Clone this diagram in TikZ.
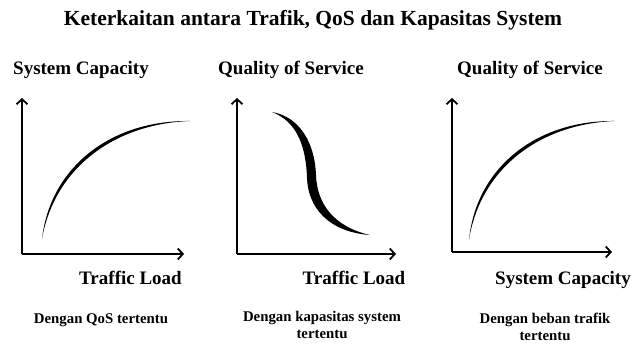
\documentclass[tikz,border=0pt]{standalone}
\usepackage{fontspec}
\setmainfont{Liberation Serif}
\usetikzlibrary{arrows.meta}

\begin{document}
\begin{tikzpicture}[x=1pt,y=-1pt]
		% styles for the axes and the labels
		\tikzset{
			axis/.style={line width=2.2pt, -{Straight Barb[length=5pt,width=11pt,line width=1.8pt]}},
			axislabel/.style={font=\fontsize{19}{22}\selectfont\bfseries, inner sep=0pt},
			note/.style={font=\fontsize{14.8}{16.5}\selectfont\bfseries, align=center, inner sep=0pt}
		}
		\useasboundingbox (0,0) rectangle (634,345);
		
		% Title
		\node[font=\fontsize{21.5}{24}\selectfont\bfseries, inner sep=0pt] (title) at (313, 20) {Keterkaitan antara Trafik, QoS dan Kapasitas System};
		
		% left graph
		\coordinate (oa) at (22, 254);
		\coordinate (ya) at (22, 98);
		\coordinate (xa) at (184, 254);
		\draw[axis] (oa) -- (ya);
		\draw[axis] (oa) -- (xa);
		\fill[black] (42, 239) .. controls (50, 168) and (110, 120) .. (190, 121)
			.. controls (112, 124) and (54, 170) .. (42, 239) -- cycle;
		\node[axislabel, anchor=west] (capa) at (13, 70) {System Capacity};
		\node[axislabel] (loada) at (130.5, 278) {Traffic Load};
		
		% middle graph
		\coordinate (ob) at (237, 254);
		\coordinate (yb) at (237, 98);
		\coordinate (xb) at (396, 254);
		\draw[axis] (ob) -- (yb);
		\draw[axis] (ob) -- (xb);
		\fill[black] (272, 112) .. controls (301, 117) and (315, 145) .. (316, 175)
			.. controls (317, 205) and (335, 227) .. (370, 235)
			.. controls (329, 232) and (308, 208) .. (307, 178)
			.. controls (306, 148) and (298, 122) .. (272, 112) -- cycle;
		\node[axislabel] (qosb) at (291, 70) {Quality of Service};
		\node[axislabel] (loadb) at (354, 278) {Traffic Load};
		
		% right graph
		\coordinate (oc) at (452, 252);
		\coordinate (yc) at (452, 98);
		\coordinate (xc) at (612, 252);
		\draw[axis] (oc) -- (yc);
		\draw[axis] (oc) -- (xc);
		\fill[black] (469, 240) .. controls (476, 168) and (536, 120) .. (615, 121)
			.. controls (538, 124) and (480, 170) .. (469, 240) -- cycle;
		\node[axislabel] (qosc) at (530, 70) {Quality of Service};
		\node[axislabel] (capc) at (563, 280) {System Capacity};
		
		% notes below
		\node[note] (nota) at (101, 320) {Dengan QoS tertentu};
		\node[note] (notb) at (322, 325) {Dengan kapasitas system\\tertentu};
		\node[note] (notc) at (545, 327) {Dengan beban trafik\\tertentu};
	\end{tikzpicture}
\end{document}
